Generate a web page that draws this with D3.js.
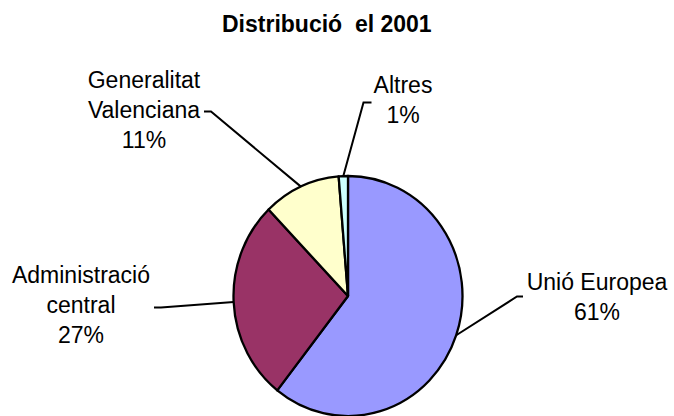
<!DOCTYPE html>
<html>
<head>
<meta charset="utf-8">
<title>Distribució el 2001</title>
<script src="https://d3js.org/d3.v7.min.js"></script>
<style>
  body { margin: 0; background: #fff; }
  text { font-family: "Liberation Sans", Arial, sans-serif; fill: #000; white-space: pre; }
</style>
</head>
<body>
<div id="chart"></div>
<script>
// data
var title = "Distribució  el 2001";
var categories = ["Unió Europea", "Administració central", "Generalitat Valenciana", "Altres"];
var labelLines = [["Unió Europea"], ["Administració", "central"], ["Generalitat", "Valenciana"], ["Altres"]];
var values = [60.6, 27.2, 10.9, 1.3];
var colors = ["#9999FF", "#993366", "#FFFFCC", "#CCFFFF"];

var width = 674, height = 416;
var cx = 348, cy = 296, rx = 114.5, ry = 120;

// label layout: text centre x, first baseline y, leader elbow and end
var labelPos = [
  {x: 597, y: 290, elbow: [517, 296.5], end: [523, 296.5]},
  {x: 81, y: 283, elbow: [161, 307.5], end: [154, 307.5]},
  {x: 144, y: 88, elbow: [211, 111.5], end: [204, 111.5]},
  {x: 403, y: 93, elbow: [363.5, 102.5], end: [371.5, 102.5]}
];

var svg = d3.select("#chart").append("svg")
    .attr("width", width)
    .attr("height", height);

svg.append("text")
    .attr("x", 222)
    .attr("y", 32)
    .attr("xml:space", "preserve")
    .style("font-size", "23px")
    .style("font-weight", "bold")
    .text(title);

var total = d3.sum(values);
var pie = d3.pie().sort(null).value(function(d) { return d; });
var arcs = pie(values);
var arc = d3.arc().innerRadius(0).outerRadius(rx);

// pie is slightly taller than wide in the original
var g = svg.append("g")
    .attr("transform", "translate(" + cx + "," + cy + ") scale(1," + (ry / rx) + ")");

g.selectAll("path")
  .data(arcs)
  .enter()
  .append("path")
    .attr("d", arc)
    .style("fill", function(d, i) { return colors[i]; })
    .style("stroke", "#000")
    .style("stroke-width", 2.3)
    .attr("vector-effect", "non-scaling-stroke")
    .style("stroke-linejoin", "round");

// leader lines
arcs.forEach(function(d, i) {
  var mid = (d.startAngle + d.endAngle) / 2;
  var p0 = [cx + rx * Math.sin(mid), cy - ry * Math.cos(mid)];
  var lp = labelPos[i];
  svg.append("polyline")
      .attr("points", [p0, lp.elbow, lp.end].map(function(p) { return p.join(","); }).join(" "))
      .style("fill", "none")
      .style("stroke", "#000")
      .style("stroke-width", 2);
});

// labels
arcs.forEach(function(d, i) {
  var lp = labelPos[i];
  var lines = labelLines[i].concat([Math.round(d.value / total * 100) + "%"]);
  var t = svg.append("text")
      .attr("text-anchor", "middle")
      .style("font-size", "23px");
  lines.forEach(function(s, k) {
    t.append("tspan")
        .attr("x", lp.x)
        .attr("y", lp.y + k * 30)
        .text(s);
  });
});
</script>
</body>
</html>
